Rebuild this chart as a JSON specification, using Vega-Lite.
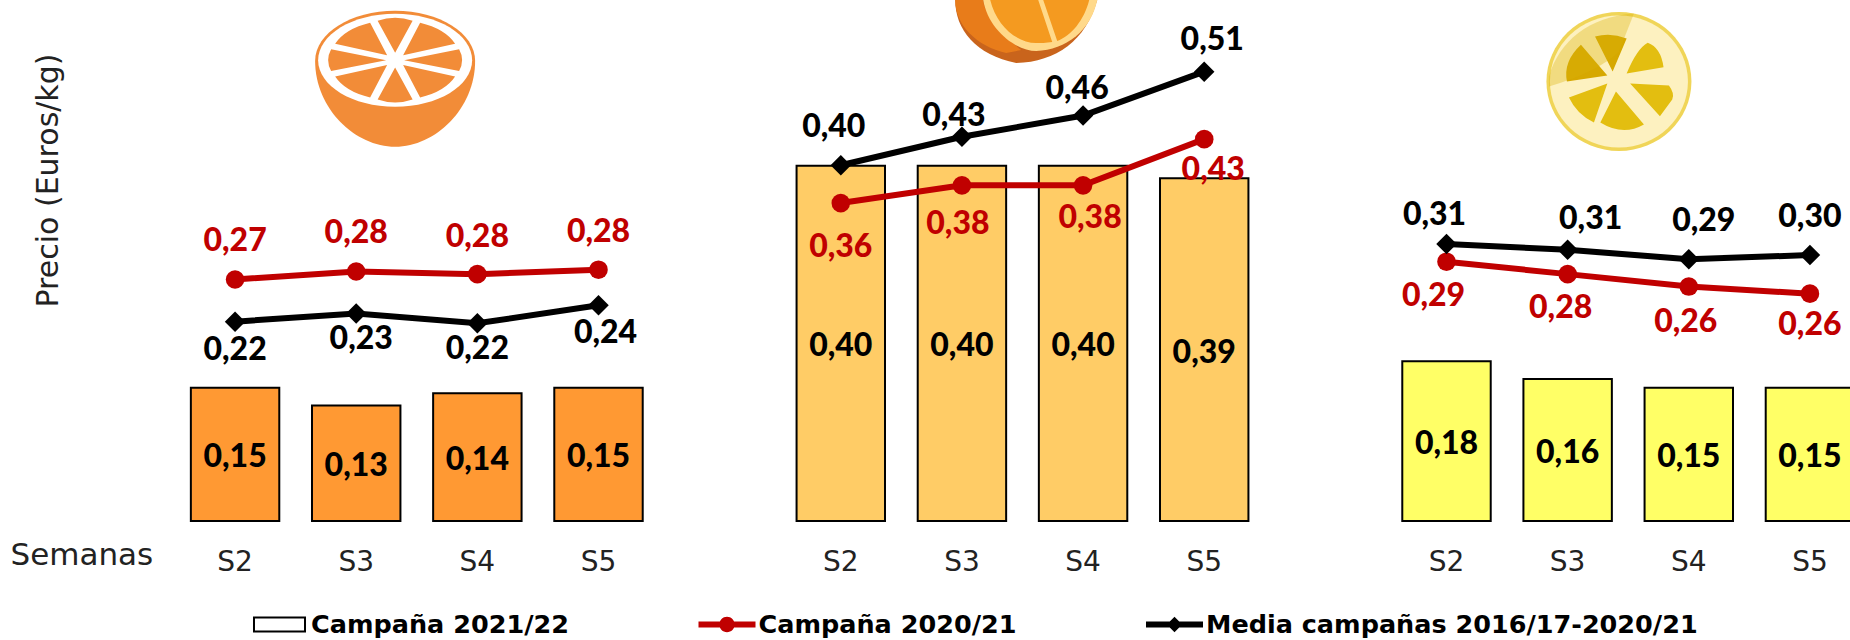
{
"$schema":"https://vega.github.io/schema/vega-lite/v6.json",
"width":1850,"height":521,
"autosize":{"type":"none"},
"padding":{"left":0,"top":0,"right":0,"bottom":119},
"background":"white",
"config":{"view":{"stroke":null}},
"params":[
{"name":"despRojo","value":{"Naranja S2":[0,-38],"Naranja S3":[0,-38],"Naranja S4":[0,-37],"Naranja S5":[0,-38],"Mandarina S2":[0,44],"Mandarina S3":[-4,39],"Mandarina S4":[7,33],"Mandarina S5":[9,31],"Limón S2":[-13,34],"Limón S3":[-7,34],"Limón S4":[-3,35],"Limón S5":[0,31]}},
{"name":"despNegro","value":{"Naranja S2":[0,28],"Naranja S3":[5,26],"Naranja S4":[0,26],"Naranja S5":[7,28],"Mandarina S2":[-7,-38],"Mandarina S3":[-8,-21],"Mandarina S4":[-6,-27],"Mandarina S5":[8,-32],"Limón S2":[-12,-29],"Limón S3":[23,-31],"Limón S4":[15,-38],"Limón S5":[0,-38]}}
],
"datasets":{"naranja":[{"pos":"Naranja S3","valor":0.498}],"mandarina":[{"pos":"Mandarina S3","valor":0.5867}],"limon":[{"pos":"Limón S3","valor":0.495}]},
"data":{"values":[
{"fruta":"Naranja","pos":"Naranja S2","serie":"Campaña 2021/22","valor":0.15},
{"fruta":"Naranja","pos":"Naranja S3","serie":"Campaña 2021/22","valor":0.13},
{"fruta":"Naranja","pos":"Naranja S4","serie":"Campaña 2021/22","valor":0.144},
{"fruta":"Naranja","pos":"Naranja S5","serie":"Campaña 2021/22","valor":0.15},
{"fruta":"Mandarina","pos":"Mandarina S2","serie":"Campaña 2021/22","valor":0.40},
{"fruta":"Mandarina","pos":"Mandarina S3","serie":"Campaña 2021/22","valor":0.40},
{"fruta":"Mandarina","pos":"Mandarina S4","serie":"Campaña 2021/22","valor":0.40},
{"fruta":"Mandarina","pos":"Mandarina S5","serie":"Campaña 2021/22","valor":0.386},
{"fruta":"Limón","pos":"Limón S2","serie":"Campaña 2021/22","valor":0.18},
{"fruta":"Limón","pos":"Limón S3","serie":"Campaña 2021/22","valor":0.16},
{"fruta":"Limón","pos":"Limón S4","serie":"Campaña 2021/22","valor":0.15},
{"fruta":"Limón","pos":"Limón S5","serie":"Campaña 2021/22","valor":0.15},
{"fruta":"Naranja","pos":"Naranja S2","serie":"Campaña 2020/21","valor":0.272},
{"fruta":"Naranja","pos":"Naranja S3","serie":"Campaña 2020/21","valor":0.281},
{"fruta":"Naranja","pos":"Naranja S4","serie":"Campaña 2020/21","valor":0.278},
{"fruta":"Naranja","pos":"Naranja S5","serie":"Campaña 2020/21","valor":0.283},
{"fruta":"Mandarina","pos":"Mandarina S2","serie":"Campaña 2020/21","valor":0.358},
{"fruta":"Mandarina","pos":"Mandarina S3","serie":"Campaña 2020/21","valor":0.378},
{"fruta":"Mandarina","pos":"Mandarina S4","serie":"Campaña 2020/21","valor":0.378},
{"fruta":"Mandarina","pos":"Mandarina S5","serie":"Campaña 2020/21","valor":0.43},
{"fruta":"Limón","pos":"Limón S2","serie":"Campaña 2020/21","valor":0.292},
{"fruta":"Limón","pos":"Limón S3","serie":"Campaña 2020/21","valor":0.278},
{"fruta":"Limón","pos":"Limón S4","serie":"Campaña 2020/21","valor":0.264},
{"fruta":"Limón","pos":"Limón S5","serie":"Campaña 2020/21","valor":0.256},
{"fruta":"Naranja","pos":"Naranja S2","serie":"Media campañas 2016/17-2020/21","valor":0.2245},
{"fruta":"Naranja","pos":"Naranja S3","serie":"Media campañas 2016/17-2020/21","valor":0.2337},
{"fruta":"Naranja","pos":"Naranja S4","serie":"Media campañas 2016/17-2020/21","valor":0.2226},
{"fruta":"Naranja","pos":"Naranja S5","serie":"Media campañas 2016/17-2020/21","valor":0.243},
{"fruta":"Mandarina","pos":"Mandarina S2","serie":"Media campañas 2016/17-2020/21","valor":0.4006},
{"fruta":"Mandarina","pos":"Mandarina S3","serie":"Media campañas 2016/17-2020/21","valor":0.4327},
{"fruta":"Mandarina","pos":"Mandarina S4","serie":"Media campañas 2016/17-2020/21","valor":0.4566},
{"fruta":"Mandarina","pos":"Mandarina S5","serie":"Media campañas 2016/17-2020/21","valor":0.506},
{"fruta":"Limón","pos":"Limón S2","serie":"Media campañas 2016/17-2020/21","valor":0.312},
{"fruta":"Limón","pos":"Limón S3","serie":"Media campañas 2016/17-2020/21","valor":0.3054},
{"fruta":"Limón","pos":"Limón S4","serie":"Media campañas 2016/17-2020/21","valor":0.2948},
{"fruta":"Limón","pos":"Limón S5","serie":"Media campañas 2016/17-2020/21","valor":0.2995}
]},
"encoding":{
"x":{"field":"pos","type":"nominal","sort":null,
"scale":{"domain":["Naranja S2","Naranja S3","Naranja S4","Naranja S5"," ","Mandarina S2","Mandarina S3","Mandarina S4","Mandarina S5","  ","Limón S2","Limón S3","Limón S4","Limón S5"],"range":[174.5,1870.5],"paddingInner":0.27,"paddingOuter":0.135},
"axis":{"title":"Semanas","titleFont":"DejaVu Sans","titleFontSize":31,"titleFontWeight":"normal","titleColor":"#222222","titleX":10,"titleY":34,"titleAnchor":"start","titleAlign":"left","titleBaseline":"middle","labelExpr":"slice(datum.label,-2)","labelFont":"DejaVu Sans","labelFontSize":28,"labelColor":"#222222","labelAngle":0,"labelPadding":27,"labelOverlap":false,"domain":false,"ticks":false,"grid":false}},
"y":{"field":"valor","type":"quantitative",
"scale":{"domain":[0,0.5867],"nice":false,"zero":false},
"axis":{"title":"Precio  (Euros/kg)","titleFont":"DejaVu Sans","titleFontSize":30,"titleFontWeight":"normal","titleColor":"#222222","titleX":48,"titleY":180,"titleAngle":-90,"titleAlign":"center","titleBaseline":"middle","labels":false,"domain":false,"ticks":false,"grid":false}}
},
"layer":[
{"transform":[{"filter":"datum.serie==='Campaña 2021/22'"}],
 "mark":{"type":"bar","stroke":"#000000","strokeWidth":2},
 "encoding":{"fill":{"field":"fruta","type":"nominal","scale":{"domain":["Naranja","Mandarina","Limón"],"range":["#FF9933","#FFCC66","#FFFF66"]},"legend":null}}},
{"transform":[{"filter":"datum.serie==='Campaña 2021/22'"},{"calculate":"replace(format(datum.valor,'.2f'),'.',',')","as":"etiqueta"},{"calculate":"datum.valor/2","as":"mitad"}],
 "mark":{"type":"text","font":"Lato","fontWeight":900,"fontSize":32,"color":"#000000","baseline":"middle","dy":3},
 "encoding":{"y":{"field":"mitad","type":"quantitative"},"text":{"field":"etiqueta"}}},
{"transform":[{"filter":"datum.serie==='Campaña 2020/21'"}],
 "mark":{"type":"line","color":"#C00000","strokeWidth":6},
 "encoding":{"detail":{"field":"fruta"}}},
{"transform":[{"filter":"datum.serie==='Campaña 2020/21'"}],
 "mark":{"type":"point","shape":"circle","filled":true,"size":346,"color":"#C00000","opacity":1}},
{"transform":[{"filter":"datum.serie==='Media campañas 2016/17-2020/21'"}],
 "mark":{"type":"line","color":"#000000","strokeWidth":6},
 "encoding":{"detail":{"field":"fruta"}}},
{"transform":[{"filter":"datum.serie==='Media campañas 2016/17-2020/21'"}],
 "mark":{"type":"point","shape":"diamond","filled":true,"size":420,"color":"#000000","opacity":1}},
{"transform":[{"filter":"datum.serie==='Campaña 2020/21'"},{"calculate":"replace(format(datum.valor,'.2f'),'.',',')","as":"etiqueta"}],
 "mark":{"type":"text","font":"Lato","fontWeight":900,"fontSize":32,"color":"#C00000","baseline":"middle","dx":{"expr":"despRojo[datum.pos][0]"},"dy":{"expr":"despRojo[datum.pos][1]"}},
 "encoding":{"text":{"field":"etiqueta"}}},
{"transform":[{"filter":"datum.serie==='Media campañas 2016/17-2020/21'"},{"calculate":"replace(format(datum.valor,'.2f'),'.',',')","as":"etiqueta"}],
 "mark":{"type":"text","font":"Lato","fontWeight":900,"fontSize":32,"color":"#000000","baseline":"middle","dx":{"expr":"despNegro[datum.pos][0]"},"dy":{"expr":"despNegro[datum.pos][1]"}},
 "encoding":{"text":{"field":"etiqueta"}}},
{"mark":{"type":"point","filled":true,"opacity":0,"size":100},
 "encoding":{
  "shape":{"field":"serie","type":"nominal","scale":{"domain":["Campaña 2021/22","Campaña 2020/21","Media campañas 2016/17-2020/21"],"range":["M-.93,-.28H.93V.28H-.93ZM-.86,-.21V.21H.86V-.21Z","M-1,-.105H1V.105H-1ZM.27,0A.27,.27 0 1 1 -.27,0A.27,.27 0 1 1 .27,0Z","M-1,-.105H1V.105H-1ZM0,-.27L.27,0L0,.27L-.27,0Z"]},
   "legend":{"title":null,"orient":"none","legendX":251,"legendY":596,"direction":"horizontal","columns":3,"columnPadding":129.5,"symbolSize":3249,"symbolOpacity":1,"symbolStrokeWidth":0,"labelOffset":3,"labelFont":"DejaVu Sans","labelFontWeight":"bold","labelFontSize":25.5,"labelColor":"#000000","labelLimit":600,"padding":0}},
  "color":{"field":"serie","type":"nominal","scale":{"domain":["Campaña 2021/22","Campaña 2020/21","Media campañas 2016/17-2020/21"],"range":["#000000","#C00000","#000000"]}}
 }},
{"data":{"name":"naranja"},
 "mark":{"type":"point","filled":true,"opacity":1,"size":40000,"fill":"#F28C38","strokeWidth":0,"shape":"M-.8,-.18A.8,.5 0 0 1 .8,-.18C.8,.3 .4,.68 0,.68C-.4,.68 -.8,.3 -.8,-.18Z"},
 "encoding":{"x":{"field":"pos","type":"nominal","bandPosition":0.94}}},
{"data":{"name":"naranja"},
 "mark":{"type":"point","filled":true,"opacity":1,"size":40000,"fill":"#FFFFFF","strokeWidth":0,"shape":"M.77,-.185A.77,.465 0 1 1 -.77,-.185A.77,.465 0 1 1 .77,-.185Z"},
 "encoding":{"x":{"field":"pos","type":"nominal","bandPosition":0.94}}},
{"data":{"name":"naranja"},
 "mark":{"type":"point","filled":true,"opacity":1,"size":40000,"fill":"#F28C38","strokeWidth":0,"shape":"M.09,-.186L.64,-.295Q.7,-.186 .64,-.077ZM.08,-.235L.60,-.35Q.50,-.50 .25,-.56ZM0,-.26L.175,-.58Q0,-.64 -.175,-.58ZM-.08,-.235L-.60,-.35Q-.50,-.50 -.25,-.56ZM-.09,-.186L-.64,-.295Q-.7,-.186 -.64,-.077ZM-.08,-.137L-.60,-.022Q-.50,.128 -.25,.188ZM0,-.112L.175,.208Q0,.268 -.175,.208ZM.08,-.137L.60,-.022Q.50,.128 .25,.188Z"},
 "encoding":{"x":{"field":"pos","type":"nominal","bandPosition":0.94}}},
{"data":{"name":"mandarina"},
 "mark":{"type":"point","filled":true,"opacity":1,"size":40000,"fill":"#C9641C","strokeWidth":0,"shape":"M-.71,0C-.71,.3 -.5,.55 -.1,.63C.3,.62 .6,.4 .71,0Z"},
 "encoding":{"x":{"field":"pos","type":"nominal","bandPosition":1.227}}},
{"data":{"name":"mandarina"},
 "mark":{"type":"point","filled":true,"opacity":1,"size":40000,"fill":"#E87C1A","strokeWidth":0,"shape":"M-.71,0C-.71,.25 -.5,.46 -.2,.53L-.05,.5C-.3,.3 -.43,.1 -.43,0Z"},
 "encoding":{"x":{"field":"pos","type":"nominal","bandPosition":1.227}}},
{"data":{"name":"mandarina"},
 "mark":{"type":"point","filled":true,"opacity":1,"size":40000,"fill":"#FFD98A","strokeWidth":0,"shape":"M-.43,0C-.38,.3 -.1,.51 .1,.51C.4,.5 .65,.3 .71,0Z"},
 "encoding":{"x":{"field":"pos","type":"nominal","bandPosition":1.227}}},
{"data":{"name":"mandarina"},
 "mark":{"type":"point","filled":true,"opacity":1,"size":40000,"fill":"#F49A20","strokeWidth":0,"shape":"M-.36,0C-.3,.25 -.1,.43 .1,.43C.14,.43 .2,.43 .26,.42L.12,0ZM.17,0L.31,.41C.45,.36 .58,.2 .63,0Z"},
 "encoding":{"x":{"field":"pos","type":"nominal","bandPosition":1.227}}},
{"data":{"name":"limon"},
 "mark":{"type":"point","filled":true,"opacity":1,"size":40000,"fill":"#F0D558","strokeWidth":0,"shape":"M.725,0A.725,.695 0 1 1 -.725,0A.725,.695 0 1 1 .725,0Z"},
 "encoding":{"x":{"field":"pos","type":"nominal","bandPosition":1.08}}},
{"data":{"name":"limon"},
 "mark":{"type":"point","filled":true,"opacity":1,"size":40000,"fill":"#FDF1C0","strokeWidth":0,"shape":"M.69,0A.69,.66 0 1 1 -.69,0A.69,.66 0 1 1 .69,0Z"},
 "encoding":{"x":{"field":"pos","type":"nominal","bandPosition":1.08}}},
{"data":{"name":"limon"},
 "mark":{"type":"point","filled":true,"opacity":1,"size":40000,"fill":"#E3BE10","strokeWidth":0,"shape":"M.077,-.08Q.18,-.33 .288,-.388Q.42,-.34 .446,-.143ZM.112,.02L.5,.04Q.56,.12 .533,.18L.41,.347ZM-.03,.1L.25,.43Q.04,.55 -.186,.41ZM-.116,.02L-.5,.16Q-.42,.33 -.25,.41Z"},
 "encoding":{"x":{"field":"pos","type":"nominal","bandPosition":1.08}}},
{"data":{"name":"limon"},
 "mark":{"type":"point","filled":true,"opacity":1,"size":40000,"fill":"#D6A800","strokeWidth":0,"shape":"M-.116,-.06L-.38,-.367Q-.56,-.2 -.52,0ZM-.063,-.1L-.239,-.449Q-.08,-.49 .077,-.43Z"},
 "encoding":{"x":{"field":"pos","type":"nominal","bandPosition":1.08}}},
{"data":{"name":"limon"},
 "mark":{"type":"point","filled":true,"opacity":0.35,"size":40000,"fill":"#D9B30A","strokeWidth":0,"shape":"M-.7,-.05C-.6,-.4 -.3,-.65 .15,-.68L0,-.3Q-.2,-.1 -.7,.05Z"},
 "encoding":{"x":{"field":"pos","type":"nominal","bandPosition":1.08}}}
]
}
